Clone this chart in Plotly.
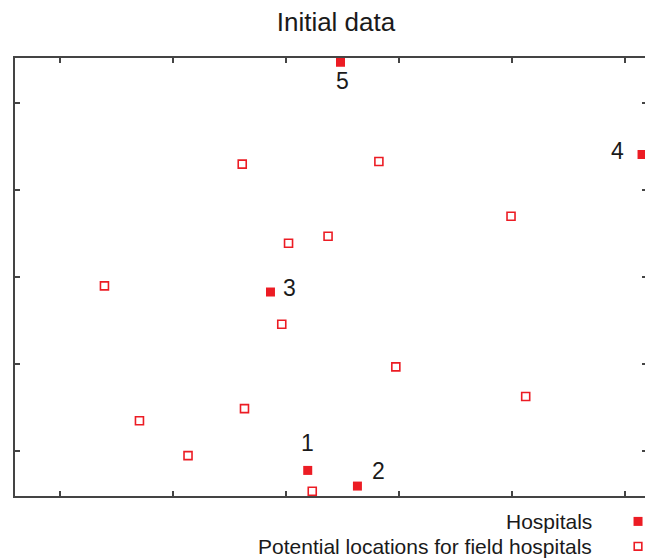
import plotly.graph_objects as go

# ---- data ----
hosp_x = [3.19, 3.63, 2.86, 6.15, 3.48]
hosp_y = [0.78, 0.60, 2.83, 4.41, 5.47]
hosp_labels = ["1", "2", "3", "4", "5"]

cand_x = [3.23, 2.13, 1.70, 2.63, 3.97, 5.12, 2.96, 1.39, 3.02, 3.37, 4.99, 2.61, 3.82]
cand_y = [0.54, 0.95, 1.35, 1.49, 1.97, 1.63, 2.46, 2.90, 3.39, 3.47, 3.70, 4.30, 4.33]

x_ticks = [1, 2, 3, 4, 5, 6]
y_ticks = [1, 2, 3, 4, 5]

title_text = "Initial data"
legend_names = ["Hospitals", "Potential locations for field hospitals"]

RED = "#ec1c24"
TXT = "#1a1a1a"
FONT = "Liberation Sans, Arial, sans-serif"

fig = go.Figure()
fig.add_trace(go.Scatter(
    x=cand_x, y=cand_y, mode="markers", name=legend_names[1],
    marker=dict(symbol="square-open", size=8, color=RED, line=dict(width=1.6, color=RED)),
    showlegend=False,
))
fig.add_trace(go.Scatter(
    x=hosp_x, y=hosp_y, mode="markers", name=legend_names[0],
    marker=dict(symbol="square", size=9, color=RED, line=dict(width=0)),
    showlegend=False,
))

# hospital number labels (pixel offsets from each marker)
offsets = [(0, 27), (21, 15), (19, 4), (-25, 4), (2, -19)]
for xv, yv, lab, (dx, dy) in zip(hosp_x, hosp_y, hosp_labels, offsets):
    fig.add_annotation(x=xv, y=yv, xref="x", yref="y", text=lab, showarrow=False,
                       xshift=dx, yshift=dy, font=dict(family=FONT, size=23, color=TXT))

# custom legend: text right-aligned, symbol on the right
leg_y = [-0.058, -0.115]
for name, ly in zip(legend_names, leg_y):
    fig.add_annotation(x=0.913, y=ly, xref="paper", yref="paper", text=name,
                       showarrow=False, xanchor="right", yanchor="middle", xshift=2,
                       font=dict(family=FONT, size=21, color=TXT))
fig.add_shape(type="rect", xref="paper", yref="paper", xsizemode="pixel", ysizemode="pixel",
              xanchor=0.9858, yanchor=leg_y[0], x0=-4.5, x1=4.5, y0=-4.5, y1=4.5,
              fillcolor=RED, line=dict(width=0))
fig.add_shape(type="rect", xref="paper", yref="paper", xsizemode="pixel", ysizemode="pixel",
              xanchor=0.9858, yanchor=leg_y[1], x0=-3.8, x1=3.8, y0=-3.8, y1=3.8,
              fillcolor="white", line=dict(width=1.6, color=RED))

axis_common = dict(showgrid=False, zeroline=False, showticklabels=False,
                   ticks="inside", ticklen=5, tickwidth=1.5, tickcolor="#444",
                   showline=True, linecolor="#444", linewidth=1.5, mirror="ticks")

fig.update_layout(
    width=645, height=550,
    margin=dict(l=7, r=4, t=50, b=62),
    paper_bgcolor="white", plot_bgcolor="white",
    title=dict(text=title_text, x=0.5085, xanchor="center", y=0.9745, yanchor="middle",
               font=dict(family=FONT, size=26, color=TXT)),
    xaxis=dict(range=[0.598, 6.194], tickvals=x_ticks, **axis_common),
    yaxis=dict(range=[0.486, 5.519], tickvals=y_ticks, **axis_common),
    showlegend=False,
)

fig.write_html("out.html")
